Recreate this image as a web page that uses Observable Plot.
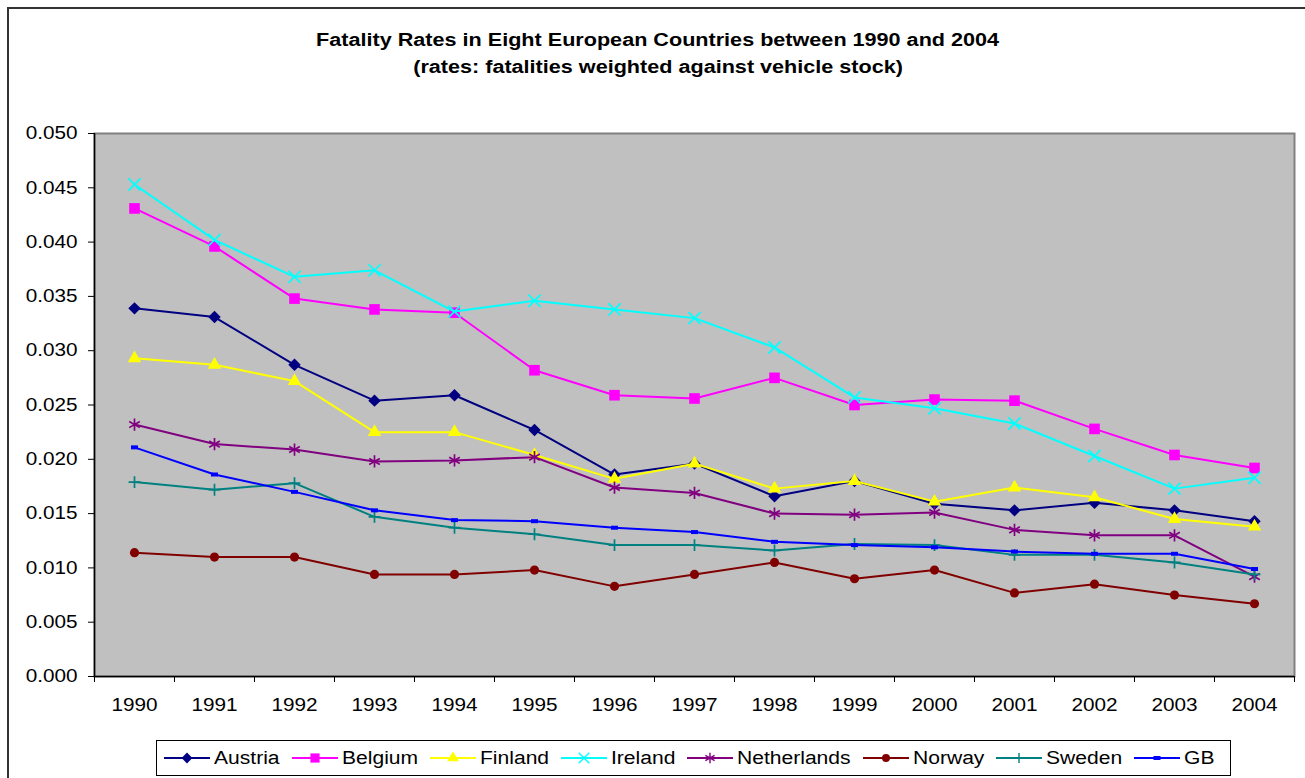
<!DOCTYPE html>
<html>
<head>
<meta charset="utf-8">
<script src="https://cdn.jsdelivr.net/npm/d3@7"></script>
<script src="https://cdn.jsdelivr.net/npm/@observablehq/plot@0.6"></script>
<style>
  body { margin: 0; background: #fff; }
  #wrap { position: relative; width: 1305px; height: 778px; overflow: hidden;
          font-family: "Liberation Sans", Arial, sans-serif; color: #000; }
  #outer { position: absolute; left: 7px; top: 7px; width: 1400px; height: 900px;
           border: 2px solid #333; box-sizing: border-box; }
  #chart { position: absolute; left: 0; top: 0; }
  #title { position: absolute; top: 27px; left: 0; width: 1316px; text-align: center;
           font-weight: bold; font-size: 18px; line-height: 27px; }
  #title div { display: inline-block; transform: scaleX(1.2); transform-origin: center; }
  #legend { position: absolute; left: 156px; top: 740px; width: 1075px; height: 36px;
            border: 1px solid #000; box-sizing: border-box; background: #fff;
            display: flex; align-items: center; padding-left: 7px; }
  .item { display: flex; align-items: center; margin-right: 12px; font-size: 18px; }
  .item svg { display: block; margin-right: 4px; }
  .item span { display: inline-block; transform-origin: left center; white-space: nowrap; }
</style>
</head>
<body>
<div id="wrap">
  <div id="outer"></div>
  <div id="chart"></div>
  <div id="title"><div>Fatality Rates in Eight European Countries between 1990 and 2004</div><br><div>(rates: fatalities weighted against vehicle stock)</div></div>
  <div id="legend"></div>
</div>
<script>
// ---- data ----
const years = [1990, 1991, 1992, 1993, 1994, 1995, 1996, 1997, 1998, 1999, 2000, 2001, 2002, 2003, 2004];
const countries = ["Austria", "Belgium", "Finland", "Ireland", "Netherlands", "Norway", "Sweden", "GB"];
const austria     = [0.0339, 0.0331, 0.0287, 0.0254, 0.0259, 0.0227, 0.0186, 0.0196, 0.0166, 0.0180, 0.0159, 0.0153, 0.0160, 0.0153, 0.0143];
const belgium     = [0.0431, 0.0396, 0.0348, 0.0338, 0.0335, 0.0282, 0.0259, 0.0256, 0.0275, 0.0250, 0.0255, 0.0254, 0.0228, 0.0204, 0.0192];
const finland     = [0.0293, 0.0287, 0.0272, 0.0225, 0.0225, 0.0204, 0.0182, 0.0196, 0.0173, 0.0180, 0.0161, 0.0174, 0.0165, 0.0145, 0.0138];
const ireland     = [0.0453, 0.0402, 0.0368, 0.0374, 0.0336, 0.0346, 0.0338, 0.0330, 0.0303, 0.0257, 0.0247, 0.0233, 0.0203, 0.0173, 0.0183];
const netherlands = [0.0232, 0.0214, 0.0209, 0.0198, 0.0199, 0.0202, 0.0174, 0.0169, 0.0150, 0.0149, 0.0151, 0.0135, 0.0130, 0.0130, 0.0092];
const norway      = [0.0114, 0.0110, 0.0110, 0.0094, 0.0094, 0.0098, 0.0083, 0.0094, 0.0105, 0.0090, 0.0098, 0.0077, 0.0085, 0.0075, 0.0067];
const sweden      = [0.0179, 0.0172, 0.0178, 0.0147, 0.0137, 0.0131, 0.0121, 0.0121, 0.0116, 0.0122, 0.0121, 0.0112, 0.0112, 0.0105, 0.0094];
const gb          = [0.0211, 0.0186, 0.0170, 0.0153, 0.0144, 0.0143, 0.0137, 0.0133, 0.0124, 0.0121, 0.0119, 0.0115, 0.0113, 0.0113, 0.0099];
const yTicks = [0, 0.005, 0.010, 0.015, 0.020, 0.025, 0.030, 0.035, 0.040, 0.045, 0.050];

const valueLists = [austria, belgium, finland, ireland, netherlands, norway, sweden, gb];

// ---- styles ----
const gbSymbol = { draw(ctx) { ctx.moveTo(-3.5, -2); ctx.lineTo(3.5, -2); ctx.lineTo(3.5, 2); ctx.lineTo(-3.5, 2); ctx.closePath(); } };
const styles = {
  Austria:     { color: "#000080", symbol: "diamond2", filled: true,  r: 5.6 },
  Belgium:     { color: "#FF00FF", symbol: "square",   filled: true,  r: 6.0 },
  Finland:     { color: "#FFFF00", symbol: "triangle", filled: true,  r: 5.0 },
  Ireland:     { color: "#00FFFF", symbol: "times",    filled: false, r: 5.6 },
  Netherlands: { color: "#800080", symbol: "asterisk", filled: false, r: 5.8 },
  Norway:      { color: "#800000", symbol: "circle",   filled: true,  r: 4.6 },
  Sweden:      { color: "#008080", symbol: "plus",     filled: false, r: 3.9 },
  GB:          { color: "#0000FF", symbol: gbSymbol,   filled: true,  r: 3 }
};

const series = countries.map((name, i) => ({
  name,
  rows: years.map((year, j) => ({ year, value: valueLists[i][j] }))
}));
const boundaries = [years[0] - 0.5, ...years.map(y => y + 0.5)];

const seriesMarks = series.flatMap(s => {
  const st = styles[s.name];
  return [
    Plot.line(s.rows, { x: "year", y: "value", stroke: st.color, strokeWidth: 2 }),
    Plot.dot(s.rows, st.filled
      ? { x: "year", y: "value", symbol: st.symbol, r: st.r, fill: st.color, stroke: "none" }
      : { x: "year", y: "value", symbol: st.symbol, r: st.r, fill: "none", stroke: st.color, strokeWidth: 1.7 })
  ];
});

const chart = Plot.plot({
  width: 1305,
  height: 778,
  marginLeft: 94,
  marginRight: 11,
  marginTop: 133,
  marginBottom: 102,
  style: { fontFamily: "'Liberation Sans', Arial, sans-serif", fontSize: "18px", color: "#000", background: "transparent", overflow: "visible" },
  x: { type: "linear", domain: [years[0] - 0.5, years[years.length - 1] + 0.5] },
  y: { type: "linear", domain: [0, 0.05] },
  marks: [
    Plot.frame({ fill: "#C0C0C0", stroke: "#808080", strokeWidth: 2 }),
    Plot.axisY({ ticks: yTicks, tickFormat: d3.format(".3f"), tickSize: 6, tickPadding: 11, label: null, stroke: "#000" }),
    Plot.axisX({ ticks: years, tickFormat: d => String(d), tickSize: 0, tickPadding: 22, label: null }),
    Plot.axisX({ ticks: boundaries, tickFormat: () => "", tickSize: 6, label: null, stroke: "#000" }),
    Plot.ruleX([years[0] - 0.5], { stroke: "#000", strokeWidth: 1.5 }),
    Plot.ruleY([0], { stroke: "#000", strokeWidth: 1.5 }),
    ...seriesMarks
  ]
});
document.getElementById("chart").appendChild(chart);

// stretch tick labels horizontally to mimic the original rendering
chart.querySelectorAll("text").forEach(t => {
  const len = t.getComputedTextLength();
  if (len > 0) {
    t.setAttribute("textLength", (len * 1.15).toFixed(1));
    t.setAttribute("lengthAdjust", "spacingAndGlyphs");
  }
});

// ---- legend ----
const legend = document.getElementById("legend");
const symMap = {
  diamond2: d3.symbolDiamond2, square: d3.symbolSquare, triangle: d3.symbolTriangle,
  times: d3.symbolTimes, asterisk: d3.symbolAsterisk, circle: d3.symbolCircle, plus: d3.symbolPlus
};
countries.forEach(name => {
  const st = styles[name];
  const item = document.createElement("div");
  item.className = "item";
  const w = 46, h = 20;
  const svg = d3.create("svg").attr("width", w).attr("height", h);
  svg.append("line").attr("x1", 0).attr("x2", w).attr("y1", h / 2).attr("y2", h / 2)
    .attr("stroke", st.color).attr("stroke-width", 2);
  const type = typeof st.symbol === "string" ? symMap[st.symbol] : st.symbol;
  const path = d3.symbol().type(type).size(Math.PI * st.r * st.r * 0.75)();
  const p = svg.append("path").attr("d", path).attr("transform", `translate(${w / 2},${h / 2})`);
  if (st.filled) p.attr("fill", st.color);
  else p.attr("fill", "none").attr("stroke", st.color).attr("stroke-width", 1.4);
  item.appendChild(svg.node());
  const span = document.createElement("span");
  span.textContent = name;
  item.appendChild(span);
  legend.appendChild(item);
  const tw = span.getBoundingClientRect().width;
  span.style.width = (tw * 1.17) + "px";
  span.style.transform = "scaleX(1.17)";
});
</script>
</body>
</html>
